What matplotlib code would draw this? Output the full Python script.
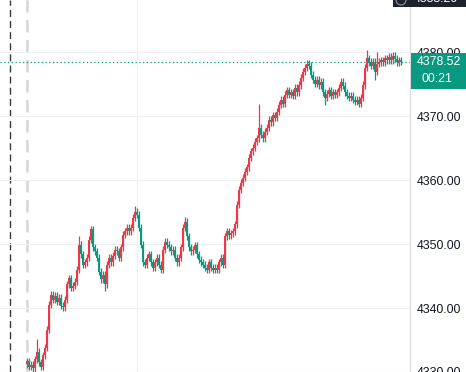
import matplotlib
matplotlib.use("Agg")
import matplotlib.pyplot as plt
from matplotlib.patches import Rectangle, Circle
import numpy as np

# ---------------- data ----------------
closes = [
    4331.7, 4330.8, 4331.1, 4330.6, 4332.0, 4333.2, 4331.5, 4330.8, 4332.6, 4333.8,
    4336.6, 4340.5, 4342.1, 4341.3, 4341.9, 4341.0, 4341.6, 4340.4, 4340.1, 4341.3,
    4343.7, 4344.7, 4343.2, 4343.5, 4344.1, 4346.0, 4349.9, 4348.4, 4346.8, 4347.2,
    4347.9, 4350.7, 4352.3, 4349.5, 4348.9, 4347.9, 4345.7, 4344.5, 4345.2, 4343.7,
    4346.8, 4347.9, 4347.2, 4348.2, 4349.1, 4348.9, 4347.9, 4349.5, 4351.5, 4352.0,
    4352.6, 4352.0, 4352.6, 4354.1, 4355.1, 4354.6, 4352.6, 4349.9, 4347.2, 4346.8,
    4347.9, 4348.4, 4347.2, 4346.3, 4347.2, 4347.9, 4346.8, 4346.0, 4349.1, 4350.4,
    4349.9, 4349.5, 4348.9, 4349.1, 4347.9, 4347.2, 4347.9, 4349.5, 4352.6, 4353.5,
    4351.2, 4349.5, 4348.9, 4349.1, 4349.8, 4348.4, 4347.6, 4347.2, 4346.8, 4346.3,
    4346.0, 4347.2, 4346.3, 4346.0, 4346.3, 4346.0, 4347.2, 4347.9, 4346.8, 4351.2,
    4352.0, 4351.4, 4351.7, 4352.0, 4353.1, 4356.2, 4358.5, 4359.6, 4360.4, 4361.3,
    4362.0, 4363.5, 4364.5, 4365.1, 4366.0, 4366.6, 4368.2, 4367.1, 4366.6, 4367.6,
    4368.2, 4369.5, 4369.1, 4370.2, 4369.8, 4370.7, 4371.8, 4372.6, 4372.0, 4373.4,
    4374.1, 4373.4, 4373.8, 4373.2, 4374.5, 4373.8, 4374.9, 4376.0, 4377.0, 4377.6,
    4378.2, 4377.9, 4376.5, 4375.7, 4375.1, 4375.7, 4374.9, 4375.4, 4373.8, 4372.9,
    4373.5, 4374.1, 4373.2, 4373.8, 4373.4, 4373.8, 4374.5, 4375.4, 4374.8, 4373.8,
    4373.2, 4372.9, 4373.2, 4372.6, 4372.3, 4372.6, 4372.0, 4372.9, 4374.9, 4377.6,
    4379.1, 4378.5, 4377.9, 4378.5, 4377.0, 4378.2, 4378.5, 4378.8, 4378.5, 4379.1,
    4378.8, 4379.3, 4378.8, 4379.5, 4379.0, 4378.5, 4378.8, 4378.52,
]
first_open = 4331.2
wick_high_idx = [5, 26, 54, 79, 116, 140, 170, 175]
wick_high_val = [4335.1, 4351.2, 4355.9, 4354.3, 4372.0, 4378.7, 4380.4, 4380.1]
wick_low_idx = [39, 149, 174]
wick_low_val = [4342.6, 4371.8, 4375.7]

price_ticks = [4330, 4340, 4350, 4360, 4370, 4380]
last_price = 4378.52
last_price_label = "4378.52"
countdown_label = "00:21"
top_label = "4388.20"

# ---------------- styling ----------------
UP = "#f23645"
DOWN = "#089981"
W, H = 466, 372
AX_W = 410
FONT = ["Liberation Sans", "DejaVu Sans"]

closes_a = np.array(closes)
opens_a = np.concatenate([[first_open], closes_a[:-1]])
idx = np.arange(len(closes_a))
wick = 0.55
highs = np.maximum(opens_a, closes_a) + wick
lows = np.minimum(opens_a, closes_a) - wick
for i, v in zip(wick_high_idx, wick_high_val):
    highs[i] = max(highs[i], v)
for i, v in zip(wick_low_idx, wick_low_val):
    lows[i] = min(lows[i], v)
colors = [UP if c >= o else DOWN for o, c in zip(opens_a, closes_a)]

fig = plt.figure(figsize=(W / 100, H / 100), dpi=100)
fig.patch.set_facecolor("white")
ax = fig.add_axes([0, 0, AX_W / W, 1])
ax.set_facecolor("white")

# pixel mapping: index 0 at x=27, 2 px per candle
px = 2.0
ax.set_xlim(-27 / px, (AX_W - 27) / px)
ax.set_ylim(4330.07, 4388.2)

for s in ax.spines.values():
    s.set_visible(False)
ax.spines["right"].set_visible(True)
ax.spines["right"].set_color("#d9dce3")
ax.spines["right"].set_linewidth(0.9)

ax.yaxis.tick_right()
ax.set_yticks(price_ticks)
ax.set_yticklabels([f"{t:.2f}" for t in price_ticks])
ax.tick_params(axis="y", length=0, pad=5, labelsize=8.9, labelcolor="#131722")
for lab in ax.get_yticklabels():
    lab.set_fontfamily(FONT)
ax.set_xticks([])
ax.grid(axis="y", color="#eef0f4", lw=0.8)
ax.axvline((137 - 27) / px, color="#eef0f4", lw=0.8, zorder=0)

# vertical marker lines
ax.axvline((10 - 27) / px, color="#3a3a3a", lw=1.0, ls=(0, (5, 3)), zorder=1)
ax.axvline((27 - 27) / px, color="#d6d6d6", lw=1.8, ls=(0, (5, 3)), zorder=1)

# candles
ax.vlines(idx, lows, highs, colors=colors, lw=0.9, zorder=3)
body_h = closes_a - opens_a
body_h = np.where(np.abs(body_h) < 0.2, 0.2, body_h)
ax.bar(idx, body_h, bottom=opens_a, width=0.8, color=colors, linewidth=0, zorder=4)

# last price dotted line
ax.axhline(last_price, color=DOWN, lw=0.9, ls=(0, (1, 2)), zorder=2)

# ---------------- overlay (pixel coordinates) ----------------
ov = fig.add_axes([0, 0, 1, 1], zorder=10)
ov.set_xlim(0, W)
ov.set_ylim(H, 0)
ov.axis("off")
ov.patch.set_alpha(0)

ov.add_patch(Rectangle((410.5, 52.5), 56, 36, facecolor=DOWN, edgecolor="none"))
ov.text(417, 62, last_price_label, color="white", fontsize=8.9, family=FONT,
        va="center", ha="left")
ov.text(421, 79, countdown_label, color="white", fontsize=8.9, family=FONT,
        va="center", ha="left")

ov.add_patch(Rectangle((393, -2), 73, 9, facecolor="#1e222d", edgecolor="none"))
ov.add_patch(Circle((401, 0), 5, facecolor="none", edgecolor="#9598a1", lw=0.8))
ov.text(414, -1, top_label, color="white", fontsize=8.9, family=FONT,
        va="center", ha="left")

fig.savefig("out.png", dpi=100, facecolor="white")
